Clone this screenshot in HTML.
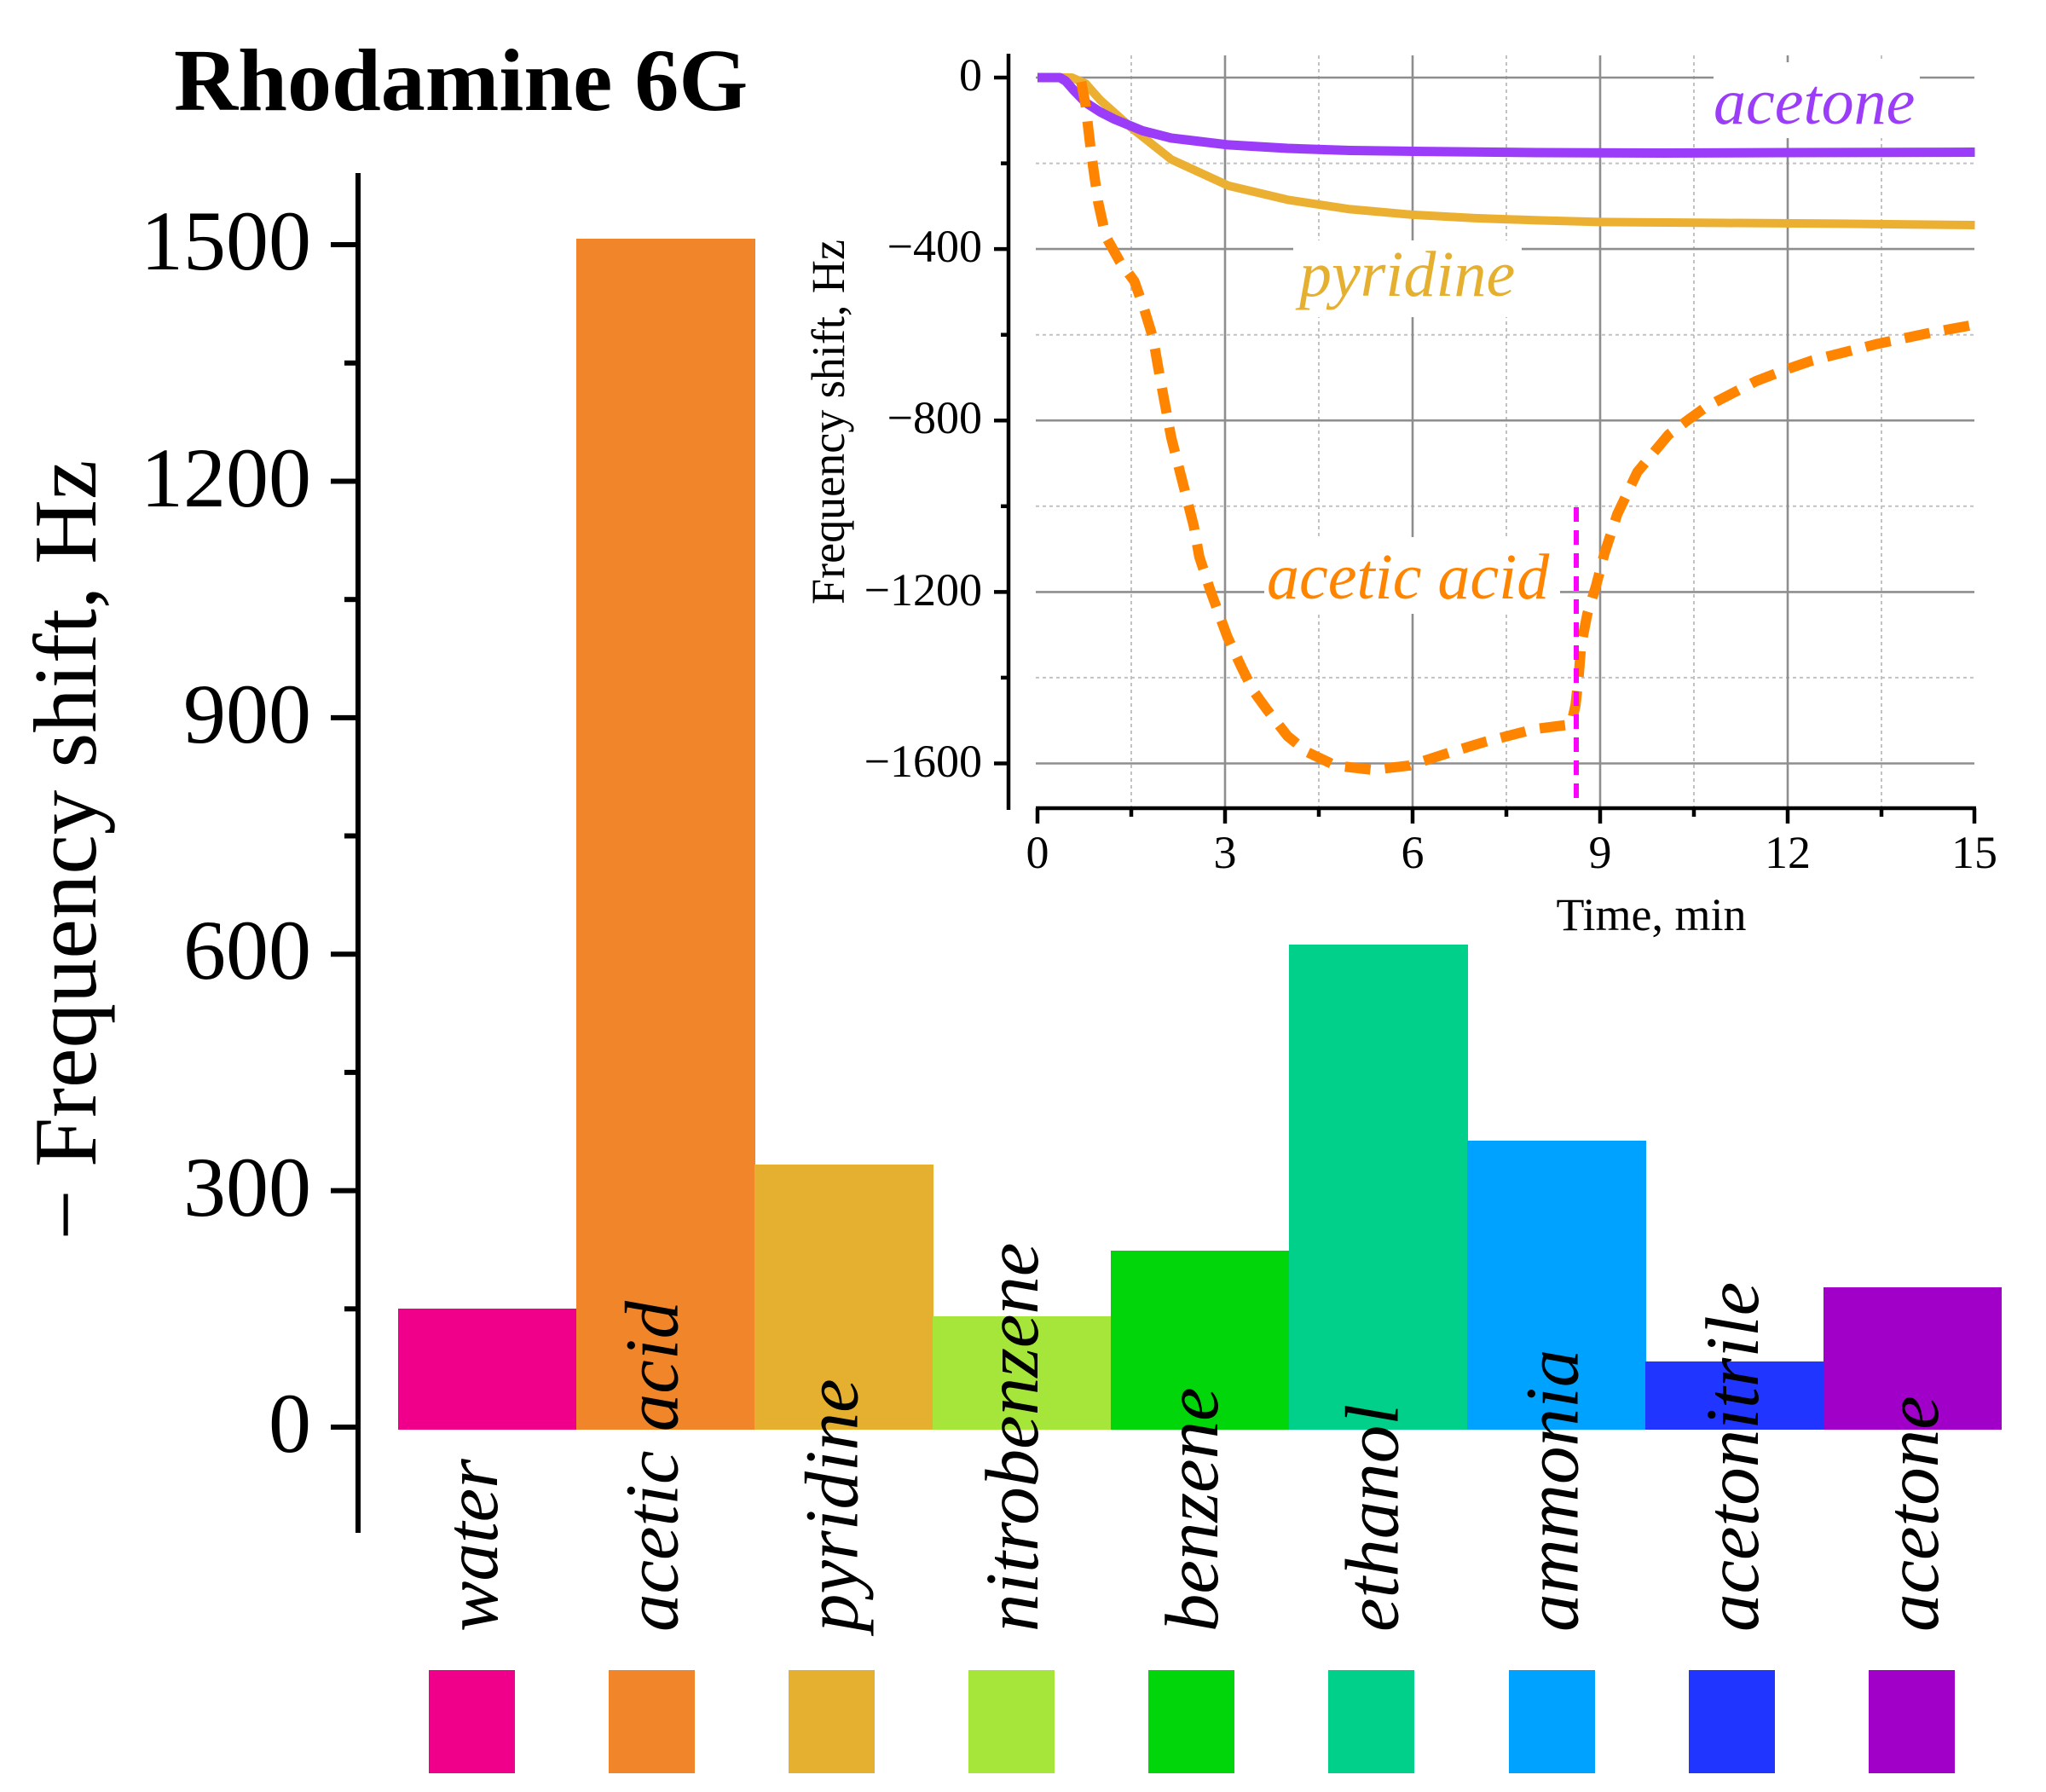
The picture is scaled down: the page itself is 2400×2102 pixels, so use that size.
<!DOCTYPE html>
<html><head><meta charset="utf-8"><style>
html,body{margin:0;padding:0;background:#fff;}
svg{display:block;}
text{font-family:"Liberation Serif","Times New Roman",serif;}
</style></head><body>
<svg width="2400" height="2102" viewBox="0 0 2400 2102" xmlns="http://www.w3.org/2000/svg">
<rect width="2400" height="2102" fill="#fff"/>
<!-- Title -->
<text x="204" y="129" font-size="104" font-weight="bold" fill="#000">Rhodamine 6G</text>

<!-- Main y label -->
<text transform="translate(112,997) rotate(-90)" text-anchor="middle" font-size="105" fill="#000" textLength="915" lengthAdjust="spacingAndGlyphs">− Frequency shift, Hz</text>

<!-- Bars -->
<g>
<rect x="467" y="1535" width="210" height="142" fill="#F0008A"/>
<rect x="676" y="280" width="210" height="1397" fill="#F0852A"/>
<rect x="885" y="1366" width="210" height="311" fill="#E5AF30"/>
<rect x="1094" y="1544" width="210" height="133" fill="#A6E63A"/>
<rect x="1303" y="1467" width="210" height="210" fill="#00D60A"/>
<rect x="1512" y="1108" width="210" height="569" fill="#00D08A"/>
<rect x="1721" y="1338" width="210" height="339" fill="#00A2FF"/>
<rect x="1930" y="1597" width="210" height="80" fill="#2035FF"/>
<rect x="2139" y="1510" width="209" height="167" fill="#A000C8"/>
</g>

<!-- Main axis -->
<line x1="420" y1="203" x2="420" y2="1798" stroke="#000" stroke-width="6"/>
<g stroke="#000" stroke-width="6">
<line x1="388" y1="1674" x2="420" y2="1674"/>
<line x1="388" y1="1396.6" x2="420" y2="1396.6"/>
<line x1="388" y1="1119.2" x2="420" y2="1119.2"/>
<line x1="388" y1="841.9" x2="420" y2="841.9"/>
<line x1="388" y1="564.5" x2="420" y2="564.5"/>
<line x1="388" y1="287" x2="420" y2="287"/>
<line x1="404" y1="1535.3" x2="420" y2="1535.3"/>
<line x1="404" y1="1257.9" x2="420" y2="1257.9"/>
<line x1="404" y1="980.5" x2="420" y2="980.5"/>
<line x1="404" y1="703.2" x2="420" y2="703.2"/>
<line x1="404" y1="425.8" x2="420" y2="425.8"/>
</g>
<g font-size="100" fill="#000" text-anchor="end">
<text x="365" y="1703">0</text>
<text x="365" y="1426">300</text>
<text x="365" y="1148">600</text>
<text x="365" y="871">900</text>
<text x="365" y="594">1200</text>
<text x="365" y="316">1500</text>
</g>

<!-- Bar labels -->
<g font-size="89" font-style="italic" fill="#000">
<text transform="translate(583,1914) rotate(-90)">water</text>
<text transform="translate(794.3,1914) rotate(-90)">acetic acid</text>
<text transform="translate(1005.5,1914) rotate(-90)">pyridine</text>
<text transform="translate(1216.8,1914) rotate(-90)">nitrobenzene</text>
<text transform="translate(1428,1914) rotate(-90)">benzene</text>
<text transform="translate(1639.3,1914) rotate(-90)">ethanol</text>
<text transform="translate(1850.5,1914) rotate(-90)">ammonia</text>
<text transform="translate(2061.8,1914) rotate(-90)">acetonitrile</text>
<text transform="translate(2273,1914) rotate(-90)">acetone</text>
</g>

<!-- Legend squares -->
<rect x="503" y="1959" width="101" height="121" fill="#F0008A"/>
<rect x="714" y="1959" width="101" height="121" fill="#F0852A"/>
<rect x="925" y="1959" width="101" height="121" fill="#E5AF30"/>
<rect x="1136" y="1959" width="101" height="121" fill="#A6E63A"/>
<rect x="1347" y="1959" width="101" height="121" fill="#00D60A"/>
<rect x="1558" y="1959" width="101" height="121" fill="#00D08A"/>
<rect x="1770" y="1959" width="101" height="121" fill="#00A2FF"/>
<rect x="1981" y="1959" width="101" height="121" fill="#2035FF"/>
<rect x="2192" y="1959" width="101" height="121" fill="#A000C8"/>

<!-- ===== INSET ===== -->
<!-- dotted minor grid -->
<g stroke="#c2c2c2" stroke-width="2" stroke-dasharray="4 4">
<line x1="1215" y1="191.6" x2="2316" y2="191.6"/>
<line x1="1215" y1="392.7" x2="2316" y2="392.7"/>
<line x1="1215" y1="593.8" x2="2316" y2="593.8"/>
<line x1="1215" y1="794.9" x2="2316" y2="794.9"/>
<line x1="1327" y1="65" x2="1327" y2="946"/>
<line x1="1547" y1="65" x2="1547" y2="946"/>
<line x1="1767" y1="65" x2="1767" y2="946"/>
<line x1="1987" y1="65" x2="1987" y2="946"/>
<line x1="2207" y1="65" x2="2207" y2="946"/>
</g>
<!-- solid major grid -->
<g stroke="#8e8e8e" stroke-width="2.6">
<line x1="1215" y1="91" x2="2316" y2="91"/>
<line x1="1215" y1="292.1" x2="2316" y2="292.1"/>
<line x1="1215" y1="493.2" x2="2316" y2="493.2"/>
<line x1="1215" y1="694.4" x2="2316" y2="694.4"/>
<line x1="1215" y1="895.5" x2="2316" y2="895.5"/>
<line x1="1437" y1="65" x2="1437" y2="946"/>
<line x1="1657" y1="65" x2="1657" y2="946"/>
<line x1="1877" y1="65" x2="1877" y2="946"/>
<line x1="2097" y1="65" x2="2097" y2="946"/>
</g>
<!-- label backgrounds -->
<rect x="2010" y="73" width="242" height="89" fill="#fff"/>
<rect x="1517" y="282" width="268" height="90" fill="#fff"/>
<rect x="1483" y="630" width="347" height="90" fill="#fff"/>

<!-- inset axes -->
<line x1="1183" y1="63" x2="1183" y2="950" stroke="#000" stroke-width="4.5"/>
<line x1="1215" y1="948" x2="2318" y2="948" stroke="#000" stroke-width="4.5"/>
<g stroke="#000" stroke-width="4.5">
<line x1="1166" y1="91" x2="1183" y2="91"/>
<line x1="1166" y1="292.1" x2="1183" y2="292.1"/>
<line x1="1166" y1="493.2" x2="1183" y2="493.2"/>
<line x1="1166" y1="694.4" x2="1183" y2="694.4"/>
<line x1="1166" y1="895.5" x2="1183" y2="895.5"/>
<line x1="1174" y1="191.6" x2="1183" y2="191.6"/>
<line x1="1174" y1="392.7" x2="1183" y2="392.7"/>
<line x1="1174" y1="593.8" x2="1183" y2="593.8"/>
<line x1="1174" y1="794.9" x2="1183" y2="794.9"/>
<line x1="1217" y1="948" x2="1217" y2="966"/>
<line x1="1437" y1="948" x2="1437" y2="966"/>
<line x1="1657" y1="948" x2="1657" y2="966"/>
<line x1="1877" y1="948" x2="1877" y2="966"/>
<line x1="2097" y1="948" x2="2097" y2="966"/>
<line x1="2316" y1="948" x2="2316" y2="966"/>
<line x1="1327" y1="948" x2="1327" y2="958"/>
<line x1="1547" y1="948" x2="1547" y2="958"/>
<line x1="1767" y1="948" x2="1767" y2="958"/>
<line x1="1987" y1="948" x2="1987" y2="958"/>
<line x1="2207" y1="948" x2="2207" y2="958"/>
</g>
<g font-size="54" fill="#000" text-anchor="end">
<text x="1152" y="106">0</text>
<text x="1152" y="307">−400</text>
<text x="1152" y="508">−800</text>
<text x="1152" y="710">−1200</text>
<text x="1152" y="911">−1600</text>
</g>
<g font-size="54" fill="#000" text-anchor="middle">
<text x="1217" y="1018">0</text>
<text x="1437" y="1018">3</text>
<text x="1657" y="1018">6</text>
<text x="1877" y="1018">9</text>
<text x="2097" y="1018">12</text>
<text x="2316" y="1018">15</text>
<text x="1937" y="1091">Time, min</text>
</g>
<text transform="translate(990,495) rotate(-90)" text-anchor="middle" font-size="55" fill="#000" textLength="428" lengthAdjust="spacingAndGlyphs">Frequency shift, Hz</text>

<!-- curves -->
<polyline fill="none" stroke="#EBB032" stroke-width="10" stroke-linejoin="round" points="1217,91 1257.3,91 1273.4,98 1290.3,117.1 1327,149.8 1373.9,187 1440.6,217.7 1510.2,234.3 1583.5,245.4 1656.8,251.9 1730.1,255.9 1803.4,258.4 1876.7,260.4 2023.3,261.5 2169.9,262.5 2316.5,264"/>
<polyline fill="none" stroke="#9B3DF8" stroke-width="11" stroke-linejoin="round" points="1217,91 1243.4,91 1250,95 1260.2,106.6 1273.4,120.2 1290.3,131.2 1307.2,139.8 1340.1,153.3 1373.9,161.9 1440.6,169.9 1510.2,174 1583.5,176.5 1656.8,177.5 1803.4,179 1950,179.5 2096.6,179 2316.5,178.5"/>
<polyline fill="none" stroke="#FF8400" stroke-width="12" stroke-dasharray="30 17" stroke-linejoin="round" points="1268.3,96 1273.4,123.2 1280,180 1288.1,236.8 1296.9,277 1313.8,307.2 1330.6,329.8 1342.3,363 1352.6,396.7 1360.7,443 1373.9,513.4 1400.3,616.9 1406.8,653.1 1420,693.4 1439.8,747.2 1456.7,783.4 1469.9,810 1486.7,833.1 1510.2,863.3 1532.9,881.9 1566.6,898 1609.9,903 1653.1,898 1700,882.9 1743.3,869.8 1799.7,855.3 1843,849.7 1848.1,827.1 1851.8,793.4 1854.7,757.2 1862,720 1872.3,686.8 1881.8,650.1 1897.2,602.9 1920.7,553.6 1957.3,509.8 1979.3,493.2 2001.3,477.2 2030.6,462.1 2060,447 2096.6,432.9 2125.9,422.8 2202.9,403.2 2265.2,390.2 2309.2,382.1 2316.5,380.6"/>
<line x1="1849" y1="595" x2="1849" y2="936" stroke="#FF00FF" stroke-width="6" stroke-dasharray="17 10"/>

<!-- inset labels -->
<text x="2010" y="145" font-size="76" font-style="italic" fill="#9B3DF8">acetone</text>
<text x="1524" y="347" font-size="76" font-style="italic" fill="#E5B030">pyridine</text>
<text x="1486" y="702" font-size="76" font-style="italic" fill="#FF8400">acetic acid</text>
</svg>
</body></html>
